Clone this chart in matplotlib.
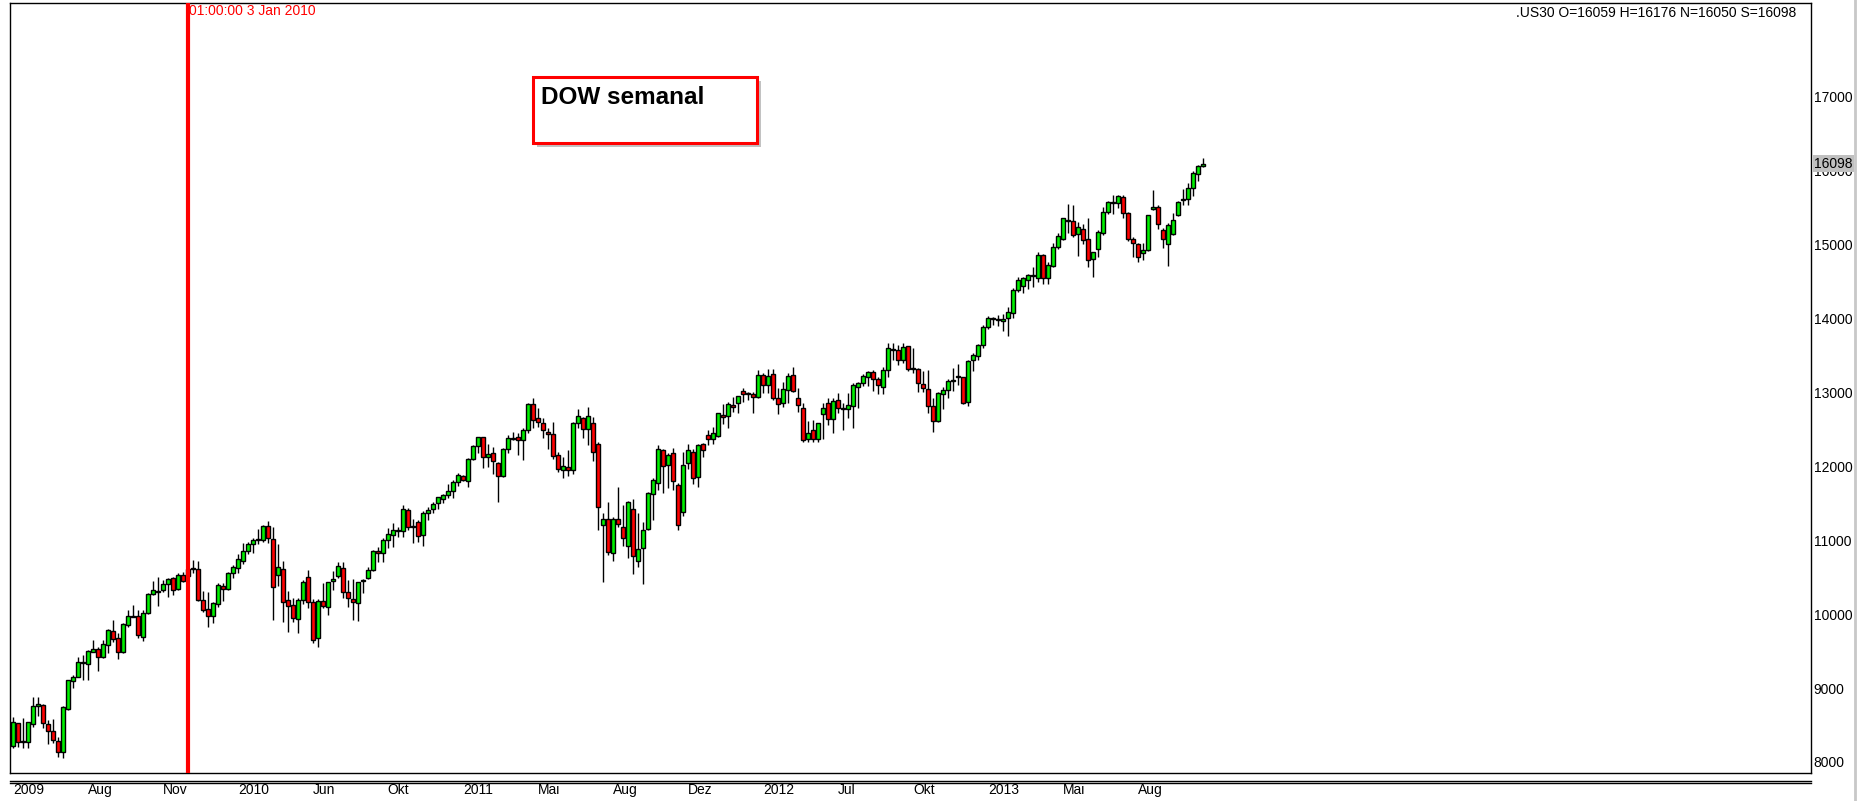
import matplotlib
matplotlib.use('Agg')
import matplotlib.pyplot as plt
from matplotlib.lines import Line2D
from matplotlib.patches import Rectangle
import matplotlib.transforms as mtransforms
import numpy as np

# weekly candles .US30 (May 2009 .. Nov 2013)
opens = [
    8212, 8524, 8280, 8267, 8510, 8763, 8767, 8510, 8415, 8280,
    8131, 8713, 9092, 9146, 9335, 9322, 9493, 9529, 9417, 9579,
    9768, 9674, 9484, 9850, 9962, 9971, 9687, 10012, 10273, 10314,
    10323, 10404, 10485, 10337, 10526, 10521, 10612, 10607, 10188, 10066,
    9970, 10137, 10376, 10336, 10552, 10620, 10719, 10859, 10954, 11008,
    10999, 11188, 11012, 10525, 10606, 10187, 10124, 9930, 10191, 10498,
    10160, 9673, 10173, 10092, 10444, 10512, 10620, 10295, 10200, 10146,
    10448, 10494, 10593, 10854, 10832, 10999, 11066, 11125, 11125, 11405,
    11188, 11243, 11067, 11364, 11418, 11500, 11554, 11608, 11662, 11784,
    11865, 11797, 12095, 12271, 12393, 12122, 12176, 12041, 11874, 12230,
    12366, 12393, 12352, 12487, 12839, 12650, 12582, 12460, 12433, 12149,
    11946, 11987, 11946, 12582, 12650, 12501, 12582, 12298, 11202, 11292,
    10823, 11283, 11184, 10918, 11418, 10719, 10891, 11148, 11621, 11770,
    12217, 12014, 12176, 11743, 11378, 12041, 12189, 11860, 12298, 12419,
    12365, 12406, 12690, 12677, 12825, 12852, 13015, 12997, 12974, 12934,
    13231, 13096, 13245, 12920, 12852, 13028, 13231, 12920, 12785, 12365,
    12487, 12365, 12703, 12852, 12636, 12893, 12785, 12771, 12812, 13069,
    13123, 13204, 13272, 13177, 13069, 13299, 13569, 13569, 13434, 13624,
    13326, 13312, 13109, 13042, 12812, 12609, 12974, 13028, 13150, 13204,
    13204, 12866, 13434, 13488, 13637, 13881, 13989, 13975, 13962, 14003,
    14071, 14382, 14436, 14517, 14571, 14544, 14855, 14544, 14707, 14964,
    15072, 15329, 15316, 15140, 15207, 15072, 14801, 14937, 15153, 15437,
    15568, 15559, 15640, 15424, 15072, 15004, 14883, 14923, 15478, 15505,
    15194, 15004, 15140, 15397, 15600, 15613, 15762, 15951, 16059,
]
highs = [
    8605, 8533, 8591, 8546, 8875, 8875, 8785, 8569, 8578, 8343,
    8758, 9110, 9177, 9426, 9448, 9516, 9651, 9561, 9651, 9795,
    9922, 9741, 9877, 10057, 10125, 10057, 10057, 10282, 10445, 10508,
    10463, 10494, 10508, 10553, 10576, 10666, 10733, 10724, 10318, 10305,
    10169, 10417, 10417, 10566, 10665, 10809, 10958, 10981, 11026, 11148,
    11206, 11260, 11175, 10949, 10719, 10313, 10214, 10214, 10462, 10597,
    10205, 10205, 10426, 10439, 10584, 10710, 10710, 10462, 10471, 10439,
    10476, 10642, 10868, 10913, 11026, 11161, 11229, 11184, 11477, 11432,
    11283, 11274, 11400, 11455, 11522, 11590, 11626, 11757, 11815, 11906,
    11878, 12108, 12289, 12402, 12402, 12302, 12257, 12063, 12244, 12424,
    12460, 12447, 12514, 12857, 12920, 12785, 12650, 12514, 12596, 12194,
    12126, 12221, 12605, 12776, 12663, 12798, 12663, 12334, 11364, 11522,
    11319, 11725, 11477, 11531, 11554, 11364, 11242, 11657, 11838, 12289,
    12230, 12176, 12244, 11770, 12199, 12302, 12230, 12302, 12320, 12492,
    12528, 12726, 12843, 12875, 12943, 12956, 13055, 13010, 13001, 13303,
    13258, 13317, 13317, 13064, 13137, 13258, 13349, 13055, 12852, 12613,
    12627, 12591, 12852, 12920, 12920, 12988, 12861, 12988, 13123, 13141,
    13245, 13294, 13303, 13213, 13339, 13664, 13664, 13642, 13664, 13628,
    13596, 13326, 13294, 13303, 12920, 13010, 13069, 13182, 13326, 13385,
    13213, 13439, 13529, 13651, 13912, 14034, 14025, 14047, 14056, 14152,
    14409, 14567, 14567, 14598, 14698, 14896, 14869, 14761, 15018, 15153,
    15365, 15546, 15537, 15311, 15279, 15356, 14905, 15198, 15514, 15591,
    15672, 15672, 15672, 15437, 15108, 15018, 15018, 15401, 15739, 15537,
    15221, 15298, 15424, 15591, 15748, 15839, 16001, 16078, 16176,
]
lows = [
    8185, 8208, 8185, 8185, 8478, 8627, 8456, 8244, 8253, 8073,
    8059, 8704, 8997, 9146, 9110, 9110, 9493, 9236, 9403, 9480,
    9628, 9389, 9471, 9831, 9958, 9674, 9642, 10003, 10260, 10116,
    10305, 10228, 10260, 10328, 10440, 10440, 10553, 10179, 10034, 9831,
    9885, 10092, 10182, 10327, 10494, 10561, 10674, 10814, 10832, 10945,
    10972, 10958, 9921, 10381, 9898, 9763, 9898, 9749, 10137, 10079,
    9605, 9560, 10079, 9988, 10327, 10485, 10214, 10101, 9921, 9912,
    10291, 10476, 10584, 10710, 10701, 10900, 10913, 11048, 11039, 11139,
    10967, 10981, 10927, 11274, 11373, 11423, 11509, 11567, 11567, 11734,
    11797, 11725, 12086, 12185, 11982, 11987, 11892, 11522, 11860, 12176,
    12357, 12154, 12086, 12447, 12514, 12537, 12379, 12235, 12095, 11928,
    11838, 11874, 11892, 12514, 12379, 12289, 12077, 11139, 10440, 10800,
    10724, 11184, 10927, 10764, 10539, 10634, 10404, 11139, 11274, 11680,
    11635, 11702, 11680, 11139, 11333, 11959, 11761, 11725, 12131, 12289,
    12302, 12392, 12573, 12523, 12740, 12717, 12875, 12898, 12726, 12920,
    12988, 12988, 12898, 12704, 12807, 12852, 13001, 12740, 12334, 12330,
    12330, 12330, 12365, 12559, 12446, 12717, 12491, 12649, 12514, 12785,
    13087, 13087, 13024, 12974, 12979, 13204, 13439, 13366, 13393, 13294,
    13267, 13001, 13001, 12717, 12469, 12604, 12771, 12920, 13024, 13100,
    12843, 12821, 13294, 13439, 13596, 13858, 13912, 13903, 13835, 13769,
    14012, 14364, 14341, 14395, 14432, 14499, 14463, 14463, 14693, 14937,
    15063, 15162, 15108, 14851, 15004, 14693, 14558, 14829, 15131, 15415,
    15415, 15491, 15356, 15054, 14829, 14770, 14792, 14914, 15469, 15207,
    14950, 14716, 15131, 15388, 15541, 15537, 15658, 15866, 16050,
]
closes = [
    8537, 8271, 8267, 8537, 8758, 8781, 8524, 8415, 8293, 8131,
    8740, 9105, 9146, 9349, 9349, 9498, 9534, 9417, 9592, 9782,
    9669, 9484, 9863, 9971, 9971, 9714, 10012, 10269, 10323, 10296,
    10404, 10481, 10323, 10526, 10445, 10612, 10607, 10188, 10052, 9971,
    10146, 10390, 10336, 10552, 10633, 10742, 10850, 10945, 10999, 11021,
    11188, 11026, 10372, 10633, 10169, 10115, 9943, 10187, 10430, 10160,
    9646, 10173, 10110, 10430, 10476, 10647, 10295, 10214, 10164, 10430,
    10462, 10593, 10854, 10832, 10999, 11080, 11134, 11139, 11418, 11175,
    11175, 11053, 11364, 11405, 11486, 11581, 11608, 11662, 11784, 11878,
    11811, 12095, 12271, 12393, 12122, 12163, 12068, 11865, 12230, 12379,
    12379, 12352, 12487, 12839, 12623, 12596, 12487, 12433, 12136, 11960,
    12000, 11946, 12582, 12677, 12501, 12677, 12190, 11446, 11283, 10841,
    11292, 11220, 11026, 11513, 10782, 10877, 11134, 11635, 11811, 12230,
    12000, 12149, 11797, 11202, 12014, 12217, 11838, 12284, 12217, 12365,
    12447, 12717, 12663, 12839, 12798, 12947, 12974, 12983, 12934, 13231,
    13096, 13218, 12920, 12839, 13042, 13218, 13015, 12825, 12352, 12446,
    12365, 12582, 12785, 12636, 12879, 12785, 12771, 12825, 13096, 13123,
    13218, 13272, 13177, 13096, 13299, 13596, 13583, 13434, 13610, 13312,
    13312, 13123, 13055, 12812, 12609, 12988, 13028, 13150, 13164, 13218,
    12852, 13421, 13502, 13637, 13881, 14002, 14002, 13989, 13989, 14084,
    14382, 14517, 14544, 14585, 14585, 14855, 14544, 14720, 14964, 15113,
    15356, 15316, 15126, 15234, 15059, 14788, 14896, 15167, 15437, 15573,
    15582, 15654, 15424, 15072, 15018, 14829, 14923, 15397, 15505, 15275,
    15072, 15261, 15329, 15573, 15613, 15762, 15965, 16060, 16098,
]

x_labels = ['2009', 'Aug', 'Nov', '2010', 'Jun', 'Okt', '2011', 'Mai',
            'Aug', 'Dez', '2012', 'Jul', 'Okt', '2013', 'Mai', 'Aug']
y_ticks = [8000, 9000, 10000, 11000, 12000, 13000, 14000, 15000, 16000, 17000]
cursor_idx = 35  # week of 3 Jan 2010
cursor_text = '01:00:00 3 Jan 2010'
info_text = '.US30 O=16059 H=16176 N=16050 S=16098'
last_price = closes[-1]

FONT = ['Liberation Sans Narrow', 'Liberation Sans', 'DejaVu Sans']
plt.rcParams['font.family'] = FONT

W, H = 1857, 801
fig = plt.figure(figsize=(W / 100, H / 100), dpi=100)
fig.patch.set_facecolor('white')
ax = fig.add_axes([10 / W, (H - 773) / H, 1801 / W, 770 / H])

o = np.array(opens, float)
h = np.array(highs, float)
l = np.array(lows, float)
c = np.array(closes, float)
x = np.arange(len(o))

up = c >= o
body_lo = np.minimum(o, c)
body_h = np.maximum(np.abs(c - o), 12)
ax.vlines(x, l, h, color='black', lw=1.0, zorder=2)
ax.bar(x, body_h, bottom=body_lo, width=0.8,
       color=np.where(up, '#00f000', '#ff0000'),
       edgecolor='black', linewidth=1.0, zorder=3)

ax.axvline(cursor_idx, color='#ff0000', lw=3.0, zorder=4)
data_x = mtransforms.blended_transform_factory(ax.transData, ax.transAxes)
data_y = mtransforms.blended_transform_factory(ax.transAxes, ax.transData)
ax.text(cursor_idx + 0.3, 1 - 8 / 770, cursor_text, transform=data_x,
        color='#ff0000', fontsize=10, va='center', ha='left')
ax.text(1786 / 1801, 1 - 10 / 770, info_text, transform=ax.transAxes,
        color='black', fontsize=10, va='center', ha='right')

ax.set_xlim(-0.56, 359.6)
ax.set_ylim(7851, 18271)

ax.yaxis.tick_right()
ax.set_yticks(y_ticks)
ax.set_yticklabels([str(v) for v in y_ticks])
ax.tick_params(axis='y', length=0, pad=2, labelsize=10)
ax.set_xticks(np.arange(len(x_labels)) * 15)
ax.set_xticklabels(x_labels)
for t in ax.get_xticklabels():
    t.set_ha('left')
    t.set_va('baseline')
ax.tick_params(axis='x', length=0, pad=15, labelsize=10)

for s in ax.spines.values():
    s.set_color('black')
    s.set_linewidth(1.0)

# current price marker
ax.text(1.0 + 3 / 1801, last_price, str(last_price), transform=data_y,
        fontsize=10, va='center', ha='left', zorder=5, clip_on=False,
        bbox=dict(boxstyle='square,pad=0.1', facecolor='#c0c0c0', edgecolor='none'))

# double line above the date axis
for yy in (781, 783):
    fig.add_artist(Line2D([10 / W, 1811 / W], [1 - yy / H, 1 - yy / H],
                          transform=fig.transFigure, color='black', lw=1.0))
# grey edge at the right
fig.add_artist(Line2D([1855 / W, 1855 / W], [0, 1], transform=fig.transFigure,
                      color='#c8c8c8', lw=2.0))

# title box with shadow
bx, by, bw, bh = 533, 77, 224, 66
fig.add_artist(Rectangle(((bx + 4) / W, 1 - (by + bh + 4) / H), bw / W, bh / H,
                         transform=fig.transFigure, facecolor='#9a9a9a',
                         edgecolor='none', alpha=0.6, zorder=9))
fig.add_artist(Rectangle((bx / W, 1 - (by + bh) / H), bw / W, bh / H,
                         transform=fig.transFigure, facecolor='white',
                         edgecolor='#ff0000', lw=2.2, zorder=10))
fig.text(541 / W, 1 - 98 / H, 'DOW semanal', fontsize=17.5, fontweight='bold',
         family=['Liberation Sans', 'DejaVu Sans'], va='center', ha='left', zorder=11)

fig.savefig('out.png', dpi=100, facecolor='white')
